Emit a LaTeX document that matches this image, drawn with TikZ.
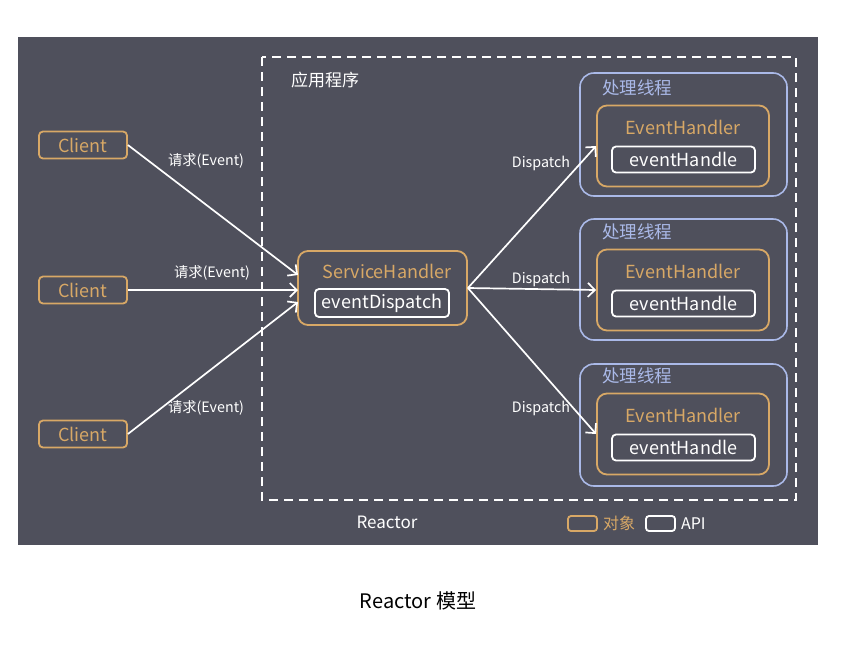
\documentclass[tikz,border=0pt]{standalone}
\usepackage{fontspec}
\setmainfont{Noto Sans CJK SC}
\usepackage{tikz}
\usetikzlibrary{calc, arrows.meta, positioning}
\definecolor{bgcol}{HTML}{4F505C}
\definecolor{objcol}{HTML}{D8A866}
\definecolor{thrcol}{HTML}{AAB9E8}
\tikzset{
    objnode/.style = {draw=objcol, rectangle, line width=1.8pt, fill=none},
    apinode/.style = {draw=white, rectangle, rounded corners=4pt, line width=1.8pt, text=white,
      inner sep=0pt, font=\fontsize{18}{21}\selectfont},
    clientnode/.style = {objnode, rounded corners=4pt, inner sep=0pt, minimum width=88pt,
      minimum height=27pt, text=objcol, font=\fontsize{18}{21}\selectfont},
    threadnode/.style = {draw=thrcol, rectangle, rounded corners=14pt, line width=1.6pt,
      minimum width=207pt, inner sep=0pt},
    textnode/.style = {draw=none, fill=none, inner sep=0pt, text=white, font=\fontsize{17}{20}\selectfont},
    smalltextnode/.style = {textnode, font=\fontsize{14.3}{17}\selectfont},
    connect/.style = {white, line width=1.7pt, -{Straight Barb[length=7pt,width=14pt,line width=1.7pt]}}
}
\begin{document}
\begin{tikzpicture}[x=1pt, y=-1pt]
\useasboundingbox (0,0) rectangle (853,646);
\fill[bgcol] (18,37) rectangle (818,545);
\draw[white, line width=1.6pt, dash pattern=on 9pt off 6pt] (262,57) rectangle (796,500);
\node[textnode, name=app] at (325,80) {应用程序};
\node[textnode, name=reactor] at (387,522) {Reactor};
% clients
\node[clientnode, name=client1] at (83,145) {Client};
\node[clientnode, name=client2] at (83,290) {Client};
\node[clientnode, name=client3] at (83,434) {Client};
% service handler
\node[objnode, rounded corners=10pt, minimum width=169pt, minimum height=74pt, name=sh] at (382.5,288) {};
\node[textnode, text=objcol, font=\fontsize{18}{21}\selectfont, name=shtitle] at (387,271) {ServiceHandler};
\node[apinode, minimum width=134pt, minimum height=28pt, name=dispatch] at (382,303) {eventDispatch};
\coordinate (in1) at (298,275);
\coordinate (in2) at (298,290);
\coordinate (in3) at (298,302);
% threads
\foreach \i/\y/\h/\ty in {1/134.5/123/146, 2/279.5/121/290, 3/425/122/434}{
  \node[threadnode, minimum height=\h pt, name=thread\i] at (683.5,\y) {};
  \node[textnode, text=thrcol, font=\fontsize{17.5}{20}\selectfont, name=ttitle\i] at (637,\ty-58) {处理线程};
  \node[objnode, rounded corners=10pt, minimum width=172pt, minimum height=81pt, name=eh\i] at (683,\ty) {};
  \node[textnode, text=objcol, font=\fontsize{18}{21}\selectfont, name=ehtitle\i] at (683,\ty-19) {EventHandler};
  \node[apinode, minimum width=143pt, minimum height=26pt, name=handle\i] at (683.5,\ty+13.5) {eventHandle};
}
% requests
\draw[connect] (client1.east) -- (in1);
\draw[connect] (client2.east) -- (in2);
\draw[connect] (client3.east) -- (in3);
\node[smalltextnode, name=req1] at (206,161) {请求(Event)};
\node[smalltextnode, name=req2] at (212,273) {请求(Event)};
\node[smalltextnode, name=req3] at (206,408) {请求(Event)};
% dispatch
\draw[connect] (sh.east) -- (eh1.west);
\draw[connect] (sh.east) -- (eh2.west);
\draw[connect] (sh.east) -- (eh3.west);
\node[smalltextnode, name=dis1] at (541,163) {Dispatch};
\node[smalltextnode, name=dis2] at (541,279) {Dispatch};
\node[smalltextnode, name=dis3] at (541,408) {Dispatch};
% legend
\node[objnode, rounded corners=3pt, minimum width=29pt, minimum height=15pt, name=legobj] at (582.5,523.5) {};
\node[textnode, text=objcol, font=\fontsize{16}{19}\selectfont, right=5pt of legobj, name=legobjtext] {对象};
\node[apinode, rounded corners=3pt, minimum width=29pt, minimum height=15pt, name=legapi] at (660.5,523.5) {};
\node[textnode, font=\fontsize{16}{19}\selectfont, right=5pt of legapi, name=legapitext] {API};
% caption
\node[textnode, text=black, font=\fontsize{20}{24}\selectfont, name=caption] at (418,601) {Reactor 模型};
\end{tikzpicture}
\end{document}
